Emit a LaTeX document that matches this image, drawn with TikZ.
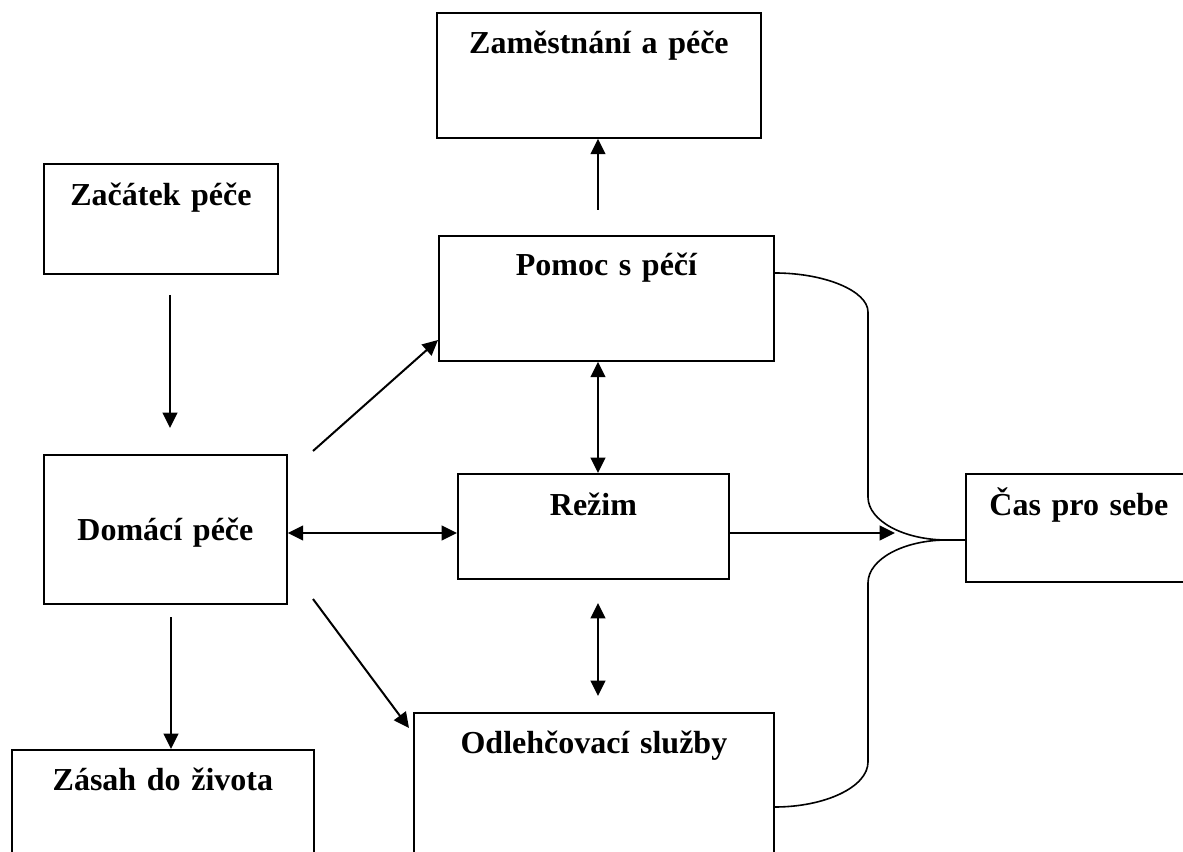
\documentclass[tikz,border=0pt]{standalone}
\usepackage{fontspec}
\setmainfont{Liberation Serif}
\usetikzlibrary{arrows.meta}
\begin{document}
\begin{tikzpicture}[x=0.75pt,y=-0.75pt,
  bx/.style n args={4}{draw, line width=1.4pt, inner sep=0pt, anchor=north west,
    align=center, text width=#1, text height=#3, text depth=#4,
    font=\fontsize{24pt}{28pt}\selectfont\bfseries},
  arr/.style={line width=1.5pt, -{Triangle[length=11.5pt,width=11pt]}},
  darr/.style={line width=1.5pt, {Triangle[length=11.5pt,width=11pt]}-{Triangle[length=11.5pt,width=11pt]}},
  crv/.style={line width=1.2pt}]
\useasboundingbox (0,0) rectangle (1183,852);
\clip (0,0) rectangle (1183,852);
% boxes
\node[bx={243pt}{93.75pt}{30.75pt}{63pt}] (zam) at (436,12) {Zaměstnání a péče};
\node[bx={175.5pt}{82.5pt}{31.5pt}{51pt}] (zac) at (43,163) {Začátek péče};
\node[bx={251.25pt}{93.75pt}{30pt}{63.75pt}] (pom) at (438,235) {Pomoc s péčí};
\node[bx={182.25pt}{111.75pt}{64.5pt}{47.25pt}] (dom) at (43,454) {Domácí péče};
\node[bx={203.25pt}{78.75pt}{31.5pt}{47.25pt}] (rez) at (457,473) {Režim};
\node[bx={169.5pt}{81pt}{31.5pt}{49.5pt}] (cas) at (965,473) {Čas pro sebe};
\node[bx={226.5pt}{105pt}{30.75pt}{74.25pt}] (zas) at (11,749) {Zásah do života};
\node[bx={270pt}{105pt}{30.75pt}{74.25pt}] (odl) at (413,712) {Odlehčovací služby};
% helper coordinates
\coordinate (c1) at (598,210);
\coordinate (zs) at (170,295);
\coordinate (ze) at (170,428);
\coordinate (p1) at (313,451);
\coordinate (p2) at (438,340);
\coordinate (vx) at (598,0);
\coordinate (hy) at (0,533);
\coordinate (rt) at (895,533);
\coordinate (q1) at (598,603);
\coordinate (q2) at (598,696);
\coordinate (o1) at (313,599);
\coordinate (o2) at (409,728);
\coordinate (d1) at (171,617);
\coordinate (j) at (947,540);
% connectors
\draw[arr] (c1) -- (zam.south -| c1);
\draw[arr] (zs) -- (ze);
\draw[arr] (p1) -- (p2);
\draw[darr] (pom.south -| vx) -- (rez.north -| vx);
\draw[darr] (dom.east |- hy) -- (rez.west |- hy);
\draw[arr] (rez.east |- hy) -- (rt);
\draw[darr] (q1) -- (q2);
\draw[arr] (o1) -- (o2);
\draw[arr] (d1) -- (zas.north -| d1);
\draw[crv] ([yshift=-28.5pt]pom.north east) .. controls (825,273) and (868,291) .. (868,312)
  -- (868,497) .. controls (868,521) and (904,540) .. (j) -- (cas.west |- j);
\draw[crv] (j) .. controls (904,540) and (868,559) .. (868,583)
  -- (868,762) .. controls (868,787) and (825,807) .. ([yshift=-71.25pt]odl.north east);
\end{tikzpicture}
\end{document}
